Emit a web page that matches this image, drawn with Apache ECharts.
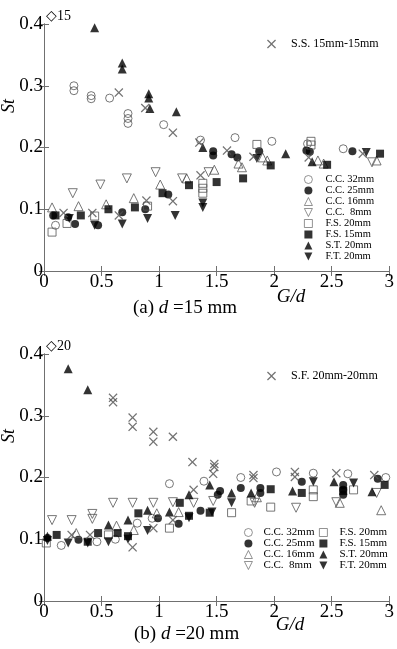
<!DOCTYPE html>
<html>
<head>
<meta charset="utf-8">
<script src="https://cdn.jsdelivr.net/npm/echarts@6/dist/echarts.min.js"></script>
<style>
  html, body { margin: 0; padding: 0; background: #fff; }
  #chart { width: 397px; height: 649px; }
</style>
</head>
<body>
<div id="chart"></div>
<script>
// axis ranges and ticks
var xMin = 0, xMax = 3, xStep = 0.5;
var yMin = 0, yMax = 0.4, yStep = 0.1;

var names = ['C.C. 32mm', 'C.C. 25mm', 'C.C. 16mm', 'C.C.  8mm', 'F.S. 20mm', 'F.S. 15mm', 'S.T. 20mm', 'F.T. 20mm'];
var crossA = 'S.S. 15mm-15mm';
var crossB = 'S.F. 20mm-20mm';

// (a) d = 15 mm
var a_cc32 = [[0.10,0.074],[0.26,0.300],[0.26,0.292],[0.41,0.284],[0.41,0.279],[0.57,0.280],[0.73,0.255],[0.73,0.247],[0.73,0.239],[1.04,0.237],[1.36,0.212],[1.66,0.216],[1.98,0.210],[2.29,0.206],[2.60,0.198]];
var a_cc25 = [[0.08,0.090],[0.21,0.087],[0.27,0.076],[0.47,0.074],[0.68,0.095],[0.88,0.100],[1.08,0.124],[1.47,0.194],[1.47,0.187],[1.63,0.189],[1.68,0.184],[1.87,0.194],[2.28,0.195],[2.31,0.193],[2.68,0.194]];
var a_cc16 = [[0.07,0.103],[0.30,0.105],[0.54,0.108],[0.78,0.118],[1.01,0.140],[1.24,0.150],[1.48,0.164],[1.69,0.174],[1.72,0.168],[1.90,0.184],[1.94,0.179],[2.38,0.179],[2.43,0.174],[2.89,0.179]];
var a_cc8 = [[0.25,0.126],[0.49,0.140],[0.72,0.150],[0.97,0.160],[1.20,0.150],[1.43,0.160],[2.85,0.176]];
var a_fs20 = [[0.07,0.063],[0.20,0.077],[0.44,0.089],[0.90,0.105],[1.38,0.142],[1.38,0.134],[1.38,0.126],[1.85,0.205],[2.32,0.210],[2.32,0.204]];
var a_fs15 = [[0.10,0.090],[0.32,0.090],[0.56,0.100],[0.79,0.103],[1.03,0.126],[1.26,0.139],[1.50,0.144],[1.73,0.150],[1.97,0.171],[2.46,0.172],[2.92,0.190]];
var a_st20 = [[0.44,0.394],[0.68,0.337],[0.68,0.327],[0.91,0.287],[0.91,0.280],[0.92,0.263],[1.15,0.258],[1.38,0.200],[2.10,0.190],[2.33,0.177]];
var a_ft20 = [[0.22,0.085],[0.44,0.074],[0.68,0.076],[0.90,0.085],[1.14,0.090],[1.38,0.110],[1.38,0.103],[1.85,0.182],[2.80,0.192]];
var a_ss = [[0.17,0.094],[0.42,0.094],[0.65,0.090],[0.65,0.289],[0.88,0.264],[0.89,0.114],[1.12,0.224],[1.12,0.113],[1.35,0.208],[1.36,0.155],[1.59,0.195],[1.82,0.185],[2.30,0.184],[2.77,0.190]];

// (b) d = 20 mm
var b_cc32 = [[0.15,0.090],[0.46,0.096],[0.62,0.100],[0.81,0.126],[0.94,0.134],[1.09,0.190],[1.39,0.194],[1.71,0.200],[2.02,0.209],[2.34,0.207],[2.64,0.206],[2.97,0.200]];
var b_cc25 = [[0.03,0.102],[0.30,0.099],[0.99,0.134],[1.17,0.125],[1.36,0.146],[1.51,0.172],[1.53,0.178],[1.71,0.183],[1.88,0.183],[1.88,0.175],[2.24,0.193],[2.60,0.188],[2.60,0.180],[2.60,0.172],[2.90,0.198]];
var b_cc16 = [[0.28,0.110],[0.63,0.122],[0.78,0.115],[0.98,0.142],[1.17,0.144],[1.85,0.168],[2.57,0.159],[2.93,0.147]];
var b_cc8 = [[0.07,0.131],[0.24,0.131],[0.42,0.141],[0.42,0.133],[0.60,0.159],[0.77,0.159],[0.95,0.159],[1.12,0.160],[1.30,0.159],[1.47,0.162],[1.83,0.159],[2.19,0.151],[2.54,0.160],[2.89,0.175]];
var b_fs20 = [[0.02,0.094],[0.56,0.107],[1.09,0.118],[1.63,0.143],[1.80,0.162],[1.97,0.152],[2.34,0.180],[2.34,0.169],[2.69,0.180]];
var b_fs15 = [[0.11,0.107],[0.38,0.096],[0.47,0.110],[0.64,0.110],[0.73,0.105],[0.82,0.142],[1.18,0.159],[1.26,0.138],[1.44,0.143],[1.97,0.181],[2.24,0.175],[2.60,0.178],[2.96,0.188]];
var b_st20 = [[0.21,0.376],[0.38,0.342],[0.03,0.105],[0.56,0.123],[0.73,0.131],[0.90,0.147],[1.09,0.144],[1.26,0.172],[1.44,0.188],[1.63,0.175],[1.80,0.175],[2.16,0.178],[2.52,0.193],[2.85,0.177]];
var b_ft20 = [[0.03,0.098],[0.21,0.094],[0.38,0.094],[0.56,0.096],[0.73,0.100],[0.90,0.114],[1.26,0.135],[1.46,0.144],[1.63,0.159],[2.34,0.193],[2.69,0.191]];
var b_sf = [[0.24,0.107],[0.40,0.107],[0.60,0.329],[0.60,0.322],[0.77,0.297],[0.77,0.282],[0.77,0.087],[0.95,0.274],[0.95,0.258],[0.95,0.118],[1.12,0.266],[1.12,0.131],[1.29,0.225],[1.30,0.180],[1.47,0.206],[1.48,0.222],[1.48,0.217],[1.82,0.204],[1.82,0.199],[2.18,0.209],[2.18,0.201],[2.54,0.207],[2.87,0.204]];

var serif = '"Liberation Serif", "Times New Roman", serif';
var axisColor = '#707070';
var openColor = '#555';
var crossPath = 'path://M0,1L1,0L5,4L9,0L10,1L6,5L10,9L9,10L5,6L1,10L0,9L4,5Z';
var downTri = 'path://M0,0L10,0L5,10Z';

// marker style per series, same order as names
var marks = [
  { symbol: 'circle', size: 8, open: true },
  { symbol: 'circle', size: 8, open: false },
  { symbol: 'triangle', size: 9, open: true },
  { symbol: downTri, size: 9, open: true },
  { symbol: 'rect', size: 8, open: true },
  { symbol: 'rect', size: 8, open: false },
  { symbol: 'triangle', size: 9, open: false },
  { symbol: downTri, size: 9, open: false }
];

function makeSeries(name, data, m, idx) {
  return {
    name: name,
    type: 'scatter',
    xAxisIndex: idx,
    yAxisIndex: idx,
    data: data,
    symbol: m.symbol,
    symbolSize: m.size,
    itemStyle: m.open
      ? { color: 'rgba(255,255,255,0)', borderColor: openColor, borderWidth: 1 }
      : { color: '#000' },
    emphasis: { disabled: true },
    silent: true
  };
}

function crossSeries(name, data, idx) {
  return {
    name: name, type: 'scatter', xAxisIndex: idx, yAxisIndex: idx, data: data,
    symbol: crossPath, symbolSize: 9,
    itemStyle: { color: '#505050' }, emphasis: { disabled: true }, silent: true
  };
}

var seriesA = [a_cc32, a_cc25, a_cc16, a_cc8, a_fs20, a_fs15, a_st20, a_ft20];
var seriesB = [b_cc32, b_cc25, b_cc16, b_cc8, b_fs20, b_fs15, b_st20, b_ft20];
var series = [];
seriesA.forEach(function (d, i) { series.push(makeSeries(names[i], d, marks[i], 0)); });
series.push(crossSeries(crossA, a_ss, 0));
seriesB.forEach(function (d, i) { series.push(makeSeries(names[i], d, marks[i], 2)); });
series.push(crossSeries(crossB, b_sf, 2));

function xAx(grid, pos, labels) {
  return {
    type: 'value', gridIndex: grid, position: pos, min: xMin, max: xMax, interval: xStep,
    axisLine: { show: true, lineStyle: { color: axisColor, width: 1 } },
    axisTick: { show: true, inside: true, length: 5, lineStyle: { color: axisColor } },
    axisLabel: { show: labels, margin: 2, color: '#000', fontFamily: serif, fontSize: 19 },
    splitLine: { show: false }
  };
}
function yAx(grid, pos, labels) {
  return {
    type: 'value', gridIndex: grid, position: pos, min: yMin, max: yMax, interval: yStep,
    axisLine: { show: true, lineStyle: { color: axisColor, width: 1 } },
    axisTick: { show: true, inside: true, length: 5, lineStyle: { color: axisColor } },
    axisLabel: { show: labels, margin: 1, color: '#000', fontFamily: serif, fontSize: 19 },
    splitLine: { show: false }
  };
}

// legend with a spacer between icon and text
function legendBox(data, left, top, icon, gap, fontSize, lineHeight) {
  return {
    data: data, orient: 'vertical', left: left, top: top, padding: 0,
    itemWidth: icon, itemHeight: icon, itemGap: 0, selectedMode: false,
    itemStyle: { borderWidth: 0.8 },
    formatter: function (n) { return '{s|}' + n; },
    textStyle: {
      fontFamily: serif, color: '#000', fontSize: fontSize, lineHeight: lineHeight,
      rich: { s: { width: gap, fontSize: fontSize, lineHeight: lineHeight } }
    }
  };
}

function txt(x, y, text, font, extra) {
  var st = { text: text, font: font, fill: '#000', textAlign: 'left', textVerticalAlign: 'middle' };
  if (extra) for (var k in extra) st[k] = extra[k];
  return { type: 'text', x: x, y: y, style: st, silent: true };
}

var capRich = { i: { fontStyle: 'italic', fontSize: 19, fontFamily: serif } };

var chart = echarts.init(document.getElementById('chart'), null, { renderer: 'canvas' });
chart.setOption({
  animation: false,
  backgroundColor: '#fff',
  grid: [
    { left: 44, top: 24, width: 346, height: 247 },
    { left: 44, top: 354, width: 346, height: 247 }
  ],
  xAxis: [xAx(0, 'bottom', true), xAx(0, 'top', false), xAx(1, 'bottom', true), xAx(1, 'top', false)],
  yAxis: [yAx(0, 'left', true), yAx(0, 'right', false), yAx(1, 'left', true), yAx(1, 'right', false)],
  legend: [
    legendBox([crossA], 267, 38, 9, 10, 12, 12),
    legendBox(names, 304, 174, 8, 8, 10.5, 10.4),
    legendBox([crossB], 267, 370, 9, 10, 12, 12),
    legendBox(names.slice(0, 4), 244, 527, 8, 6, 11, 10.8),
    legendBox(names.slice(4), 319, 527, 8, 7, 11, 10.8)
  ],
  graphic: [
    txt(46, 16, '\u25C715', '14px ' + serif),
    txt(46, 346, '\u25C720', '14px ' + serif),
    txt(9, 106, 'St', 'italic 18px ' + serif, { textAlign: 'center' }),
    txt(9, 436, 'St', 'italic 18px ' + serif, { textAlign: 'center' }),
    txt(291, 297, 'G/d', 'italic 19px ' + serif, { textAlign: 'center' }),
    txt(290, 625, 'G/d', 'italic 19px ' + serif, { textAlign: 'center' }),
    txt(133, 308, '(a) {i|d} =15 mm', '19px ' + serif, { rich: capRich }),
    txt(134, 634, '(b) {i|d} =20 mm', '19px ' + serif, { rich: capRich })
  ].map(function (g) {
    if (g.style.text === 'St') g.rotation = Math.PI / 2;
    return g;
  }),
  series: series
});
</script>
</body>
</html>
